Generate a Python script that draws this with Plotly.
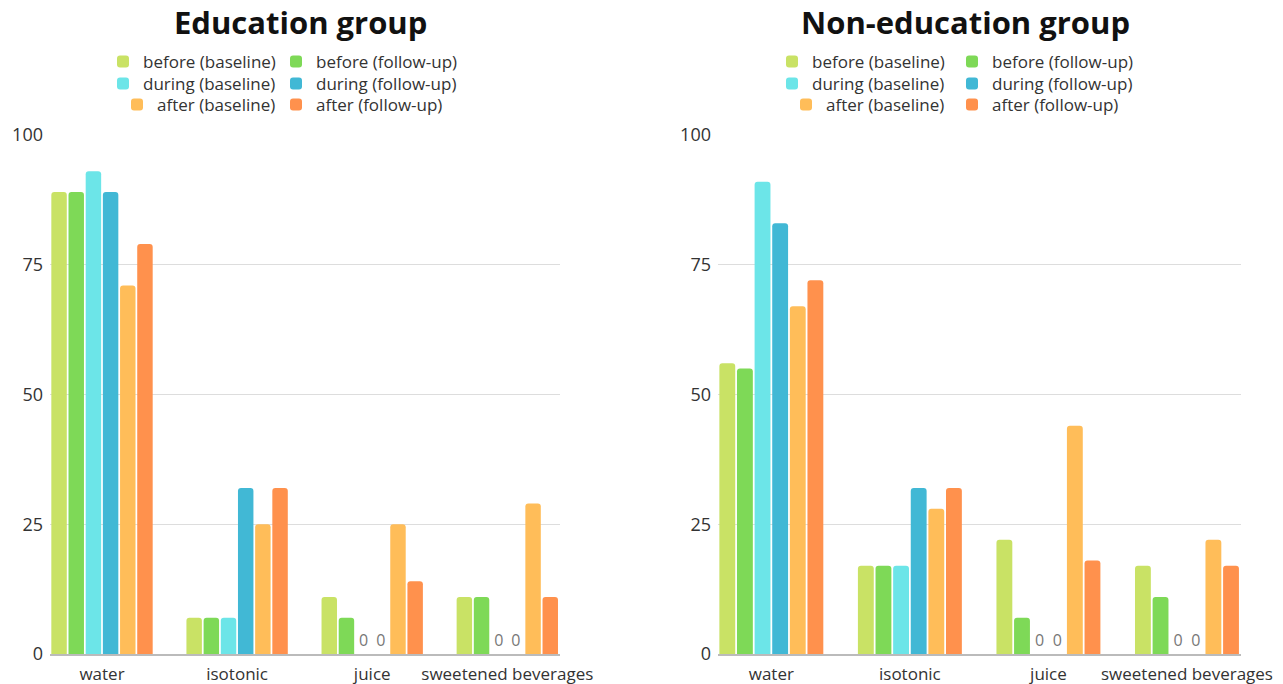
import plotly.graph_objects as go

categories = ["water", "isotonic", "juice", "sweetened beverages"]
series_names = ["before (baseline)", "before (follow-up)", "during (baseline)",
                "during (follow-up)", "after (baseline)", "after (follow-up)"]
colors = ["#c9e265", "#7ed957", "#6ce5e8", "#41b8d5", "#ffbd59", "#ff914d"]

edu_before_baseline = [89, 7, 11, 11]
edu_before_followup = [89, 7, 7, 11]
edu_during_baseline = [93, 7, 0, 0]
edu_during_followup = [89, 32, 0, 0]
edu_after_baseline = [71, 25, 25, 29]
edu_after_followup = [79, 32, 14, 11]

non_before_baseline = [56, 17, 22, 17]
non_before_followup = [55, 17, 7, 11]
non_during_baseline = [91, 17, 0, 0]
non_during_followup = [83, 32, 0, 0]
non_after_baseline = [67, 28, 44, 22]
non_after_followup = [72, 32, 18, 17]

edu = [edu_before_baseline, edu_before_followup, edu_during_baseline,
       edu_during_followup, edu_after_baseline, edu_after_followup]
non = [non_before_baseline, non_before_followup, non_during_baseline,
       non_during_followup, non_after_baseline, non_after_followup]

W, H = 1283, 684
FONT = "Open Sans"

fig = go.Figure()
legend_layout = {}
row_y = [62, 84, 105]

def add_group(data, xa, ya, start_idx, left_col_right_px, right_col_left_px):
    for i, (name, vals) in enumerate(zip(series_names, data)):
        idx = start_idx + i
        lname = "legend" if idx == 1 else f"legend{idx}"
        fig.add_trace(go.Bar(
            x=categories, y=vals, name=name, marker_color=colors[i],
            marker_line_width=0,
            xaxis=xa, yaxis=ya,
            legend=lname, showlegend=True,
            text=["0" if v == 0 else "" for v in vals],
            textposition="outside", cliponaxis=False,
            textfont=dict(color="#777777", size=16, family=FONT),
            hoverinfo="x+y+name",
        ))
        row = i // 2
        if i % 2 == 0:
            pos = dict(x=left_col_right_px / W, xanchor="right")
        else:
            pos = dict(x=right_col_left_px / W, xanchor="left")
        legend_layout[lname] = dict(
            orientation="v", bgcolor="rgba(0,0,0,0)",
            font=dict(size=17, color="#333333", family=FONT),
            yanchor="middle", y=1 - row_y[row] / H,
            itemclick=False, itemdoubleclick=False, itemwidth=30,
            **pos)

add_group(edu, "x", "y", 1, 281, 276)
add_group(non, "x2", "y2", 7, 950, 952)

ydom = [(H - 654) / H, (H - 135) / H]
axis_common = dict(type="category", range=[-0.385, 3.39], showgrid=False,
                   showline=True, linecolor="#bbbbbb", linewidth=1.5,
                   ticks="", tickfont=dict(size=17, color="#333333", family=FONT),
                   automargin=False, ticklabelstandoff=4)
yaxis_common = dict(range=[0, 100], tickvals=[0, 25, 50, 75, 100],
                    showgrid=True, gridcolor="#dddddd", gridwidth=1,
                    zeroline=False, showline=False, ticks="",
                    tickfont=dict(size=18, color="#333333", family=FONT),
                    automargin=False, ticklabelstandoff=6)

fig.update_layout(
    width=W, height=H,
    margin=dict(l=0, r=0, t=0, b=0),
    showlegend=True,
    paper_bgcolor="white", plot_bgcolor="white",
    font=dict(family=FONT, color="#333333"),
    barmode="group", bargap=0.237, bargroupgap=0.1,
    barcornerradius=3,
    xaxis=dict(domain=[50 / W, 560 / W], anchor="y", **axis_common),
    yaxis=dict(domain=ydom, anchor="x", **yaxis_common),
    xaxis2=dict(domain=[718 / W, 1241 / W], anchor="y2", **axis_common),
    yaxis2=dict(domain=ydom, anchor="x2", **yaxis_common),
    annotations=[
        dict(text="<b>Education group</b>", x=300 / W, y=1 - 22 / H,
             xref="paper", yref="paper", showarrow=False,
             font=dict(size=31, color="#111111", family=FONT),
             xanchor="center", yanchor="middle"),
        dict(text="<b>Non-education group</b>", x=965 / W, y=1 - 22 / H,
             xref="paper", yref="paper", showarrow=False,
             font=dict(size=31, color="#111111", family=FONT),
             xanchor="center", yanchor="middle"),
    ],
    **legend_layout,
)

fig.write_html("out.html")
